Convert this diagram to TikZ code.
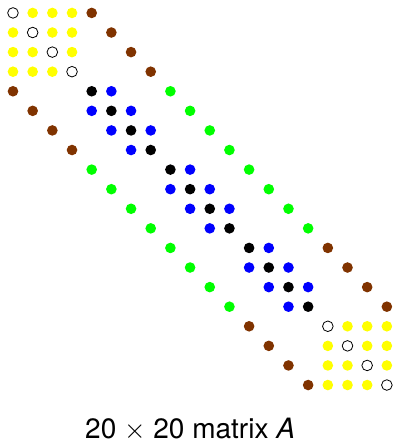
\documentclass[tikz,border=0pt]{standalone}
\usepackage{fontspec}
\setmainfont{TeX Gyre Heros}
\definecolor{dotbrown}{RGB}{128,51,0}
\definecolor{dotgreen}{RGB}{0,255,0}
\definecolor{dotblue}{RGB}{0,0,255}
\definecolor{dotyellow}{RGB}{255,255,0}
\tikzset{
  opendot/.style={draw=black,line width=0.6pt,fill=white},
  yeldot/.style={fill=dotyellow},
  browndot/.style={fill=dotbrown},
  greendot/.style={fill=dotgreen},
  bluedot/.style={fill=dotblue},
  diagdot/.style={fill=black},
}
\newcommand{\dotr}{0.27}
\begin{document}
\begin{tikzpicture}[x=14.76pt,y=-14.69pt]
  \useasboundingbox (-0.66,-0.66) rectangle (19.36,21.96);
  % dense 4x4 corner blocks
  \foreach \b in {0,16} {
    \foreach \i in {0,...,3} {
      \foreach \j in {0,...,3} {
        \ifnum\i=\j
          \draw[opendot] (\b+\j,\b+\i) circle (\dotr);
        \else
          \fill[yeldot] (\b+\j,\b+\i) circle (\dotr);
        \fi
      }
    }
  }
  % brown and green off-diagonals
  \foreach \k in {0,...,3} {
    \fill[browndot] (\k+4,\k) circle (\dotr);
    \fill[browndot] (\k,\k+4) circle (\dotr);
    \fill[browndot] (\k+16,\k+12) circle (\dotr);
    \fill[browndot] (\k+12,\k+16) circle (\dotr);
    \fill[greendot] (\k+8,\k+4) circle (\dotr);
    \fill[greendot] (\k+4,\k+8) circle (\dotr);
    \fill[greendot] (\k+12,\k+8) circle (\dotr);
    \fill[greendot] (\k+8,\k+12) circle (\dotr);
  }
  % tridiagonal middle blocks
  \foreach \b in {4,8,12} {
    \foreach \k in {0,...,3} {
      \fill[diagdot] (\b+\k,\b+\k) circle (\dotr);
    }
    \foreach \k in {0,...,2} {
      \fill[bluedot] (\b+\k+1,\b+\k) circle (\dotr);
      \fill[bluedot] (\b+\k,\b+\k+1) circle (\dotr);
    }
  }
  \node[anchor=base,inner sep=0pt,font=\fontsize{21}{25}\selectfont] (caption) at (9,21.74) {20 $\times$ 20 matrix \textit{A}};
\end{tikzpicture}
\end{document}
